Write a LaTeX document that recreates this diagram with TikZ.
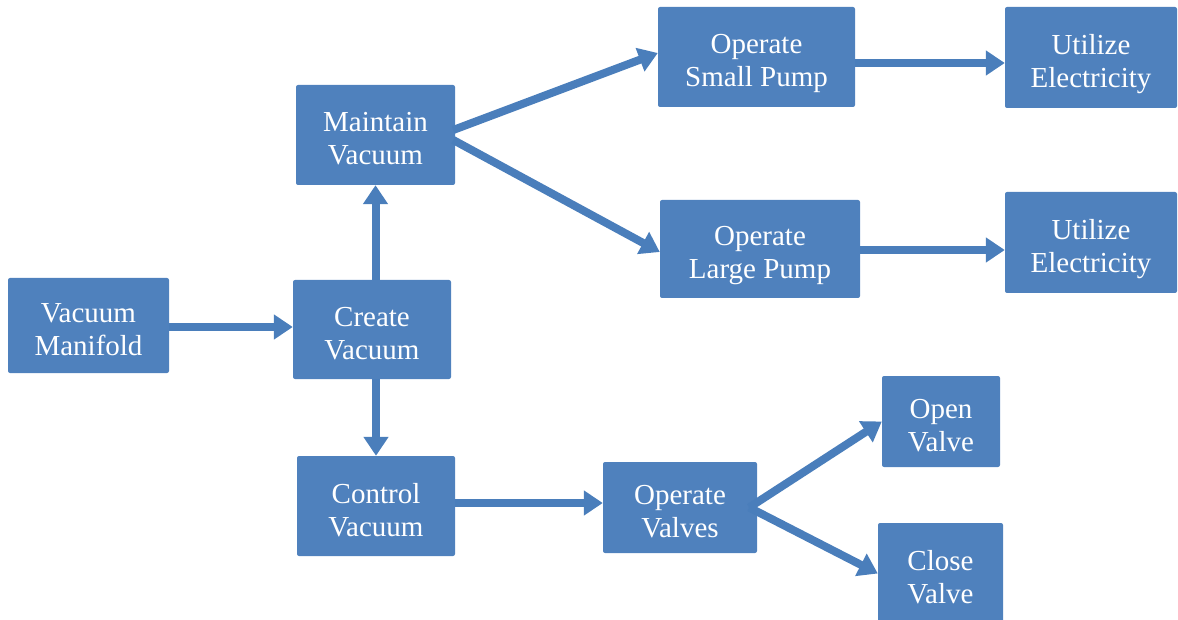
\documentclass[tikz,border=0pt]{standalone}
\usepackage{fontspec}
\setmainfont{Liberation Serif}
\usetikzlibrary{arrows.meta,calc}
\definecolor{boxblue}{HTML}{4F81BD}
\definecolor{arrblue}{HTML}{4A7EBB}
\newcommand\mytopstrut{\rule{0pt}{27pt}}
\begin{document}
\begin{tikzpicture}[x=1pt,y=-1pt,
  box/.style={fill=boxblue, rounded corners=2pt, text=white, align=center, inner sep=0pt,
    text depth=0pt, font=\fontsize{29}{33}\selectfont},
  arr/.style={draw=arrblue, line width=8pt, -{Triangle[length=19pt,width=24pt]}}]
\useasboundingbox (0,0) rectangle (1178,620);
\node[box, minimum width=161pt, minimum height=95pt] (vm) at (88.5,325.5) {\mytopstrut Vacuum\\Manifold};
\node[box, minimum width=158pt, minimum height=99pt] (cv) at (372,329.5) {\mytopstrut Create\\Vacuum};
\node[box, minimum width=159pt, minimum height=100pt] (mv) at (375.5,135) {\mytopstrut Maintain\\Vacuum};
\node[box, minimum width=158pt, minimum height=100pt] (ctl) at (376,506) {\mytopstrut Control\\Vacuum};
\node[box, minimum width=197pt, minimum height=100pt] (osp) at (756.5,57) {\mytopstrut Operate\\Small Pump};
\node[box, minimum width=200pt, minimum height=98pt] (olp) at (760,249) {\mytopstrut Operate\\Large Pump};
\node[box, minimum width=172pt, minimum height=101pt] (ue1) at (1091,57.5) {\mytopstrut Utilize\\Electricity};
\node[box, minimum width=172pt, minimum height=101pt] (ue2) at (1091,242.5) {\mytopstrut Utilize\\Electricity};
\node[box, minimum width=154pt, minimum height=91pt] (ov) at (680,507.5) {\mytopstrut Operate\\Valves};
\node[box, minimum width=118pt, minimum height=91pt] (opv) at (941,421.5) {\mytopstrut Open\\Valve};
\node[box, minimum width=125pt, minimum height=101pt] (clv) at (940.5,573.5) {\mytopstrut Close\\Valve};
\coordinate (a1) at ($(vm.east)+(0,1.5)$);
\draw[arr] (a1) -- (a1 -| cv.west);
\draw[arr] (cv.north -| mv.south) -- (mv.south);
\draw[arr] (cv.south -| ctl.north) -- (ctl.north);
\draw[arr] ($(mv.east)+(-2,-5)$) -- ($(osp.west)+(0,-4)$);
\draw[arr] ($(mv.east)+(-2,5)$) -- ($(olp.west)+(0,3)$);
\coordinate (a2) at ($(osp.east)+(0,6)$);
\draw[arr] (a2) -- (a2 -| ue1.west);
\coordinate (a3) at ($(olp.east)+(0,1)$);
\draw[arr] (a3) -- (a3 -| ue2.west);
\coordinate (a4) at ($(ctl.east)+(0,-3)$);
\draw[arr] (a4) -- (a4 -| ov.west);
\draw[arr] ($(ov.east)+(-8,0)$) -- ($(opv.west)+(0,0)$);
\draw[arr] ($(ov.east)+(-8,0)$) -- ($(clv.west)+(0,0)$);
\end{tikzpicture}
\end{document}
